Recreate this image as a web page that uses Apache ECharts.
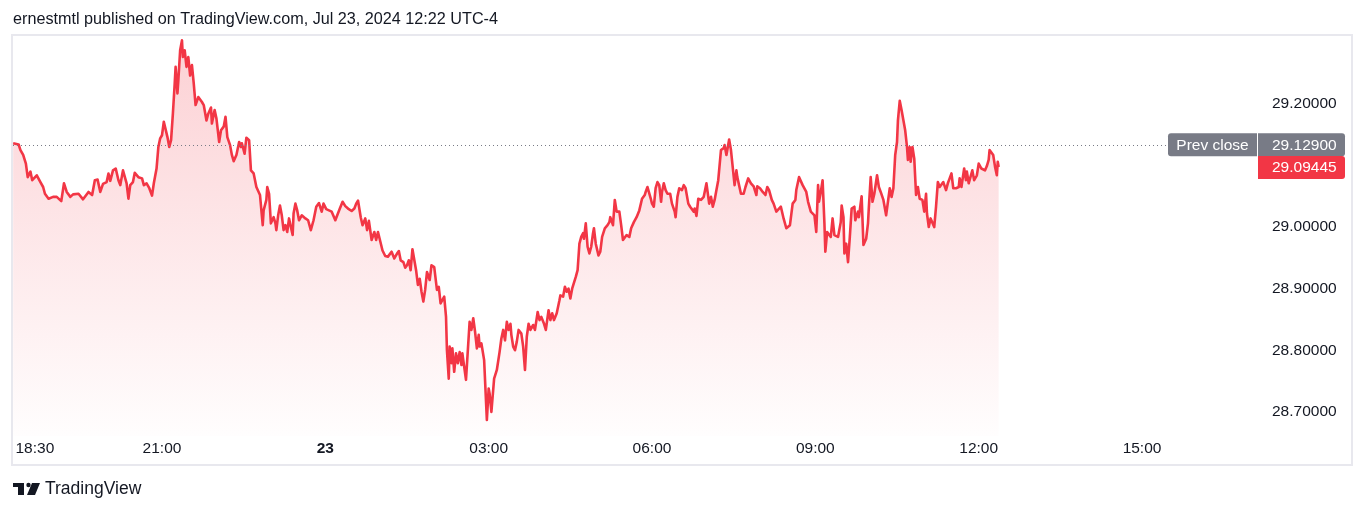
<!DOCTYPE html>
<html>
<head>
<meta charset="utf-8">
<script src="https://cdn.jsdelivr.net/npm/echarts@6/dist/echarts.min.js"></script>
<style>
html,body{margin:0;padding:0;background:#ffffff;}
#c{width:1365px;height:512px;}
</style>
</head>
<body>
<div id="c"></div>
<script>
// minutes after 18:00 on Jul 22, 2024 (UTC-4)
const minutes = [
16,22,24,27,30,32,35,37,42,46,49,51,55,60,64,69,72,75,79,82,
88,93,99,103,106,109,112,115,119,121,123,126,129,132,134,137,141,143,145,148,
150,154,158,160,163,166,169,171,174,176,178,180,182,184,186,188,190,192,194,195,
197,198,200,202,203,205,207,209,211,213,215,217,220,224,226,229,231,234,235,238,
240,243,245,248,250,252,255,257,259,262,265,267,268,271,273,276,278,281,284,288,
291,292,295,296,298,300,303,305,306,308,310,312,314,316,318,320,322,324,325,327,
329,331,334,338,341,344,347,350,353,356,358,361,363,367,371,373,376,379,382,385,
389,392,394,396,399,401,404,406,408,411,414,416,418,420,423,426,429,433,436,439,
441,443,446,448,450,452,454,456,458,460,462,464,466,468,470,472,475,477,480,483,
485,487,491,493,494,496,497,499,500,502,504,506,508,510,511,515,519,521,523,525,
527,529,530,532,535,538,540,541,543,546,549,552,554,556,558,560,562,564,565,567,
569,571,573,576,578,580,582,584,586,589,591,594,596,598,601,603,606,608,610,612,
615,618,619,622,624,626,628,630,632,634,636,638,640,642,644,645,647,649,651,653,
655,656,658,661,663,665,668,671,673,674,677,679,681,684,686,688,690,692,695,697,
699,700,703,706,708,709,712,713,715,717,719,720,722,724,726,728,730,731,733,735,
737,740,742,745,746,748,750,753,755,757,760,762,764,766,767,769,771,774,777,780,
781,783,785,787,789,791,793,795,796,799,800,802,805,807,809,811,813,814,816,818,
821,823,826,829,832,835,836,839,842,845,847,849,852,854,857,859,862,865,868,870,
872,875,878,879,882,884,886,888,890,892,895,897,899,901,903,904,906,908,910,911,
913,915,917,919,921,923,925,926,928,929,931,932,934,936,938,940,943,944,947,948,
951,953,956,958,959,961,963,965,968,970,972,975,978,980,982,984,986,988,990,991,
993,995,997,999,1001,1002,1004,1005,1007,1009,1011,1013,1015,1018,1020,1022,1023,1025,1027,1029,
1031,1033,1035,1037,1039,1041,1044,1046,1048,1050,1052,1055,1058,1059,1061,1064,1066,1067,1069,1071,
1073,1075,1078,1080,1083,1085,1087,1089,1091,1092,1094,1096,1098,1100,1101,1102
];
const prices = [
29.133,29.131,29.122,29.114,29.100,29.078,29.087,29.073,29.081,29.070,29.062,29.051,29.043,29.046,29.046,29.039,29.068,29.054,29.046,29.050,
29.051,29.042,29.054,29.049,29.073,29.074,29.054,29.067,29.070,29.084,29.072,29.089,29.092,29.073,29.065,29.089,29.068,29.043,29.065,29.070,
29.085,29.078,29.076,29.065,29.068,29.060,29.048,29.068,29.092,29.127,29.141,29.146,29.168,29.170,29.143,29.127,29.138,29.181,29.230,29.257,
29.214,29.235,29.284,29.300,29.273,29.284,29.257,29.273,29.243,29.260,29.230,29.195,29.208,29.200,29.195,29.170,29.181,29.191,29.165,29.187,
29.173,29.135,29.154,29.160,29.176,29.143,29.130,29.114,29.104,29.114,29.135,29.127,29.133,29.116,29.142,29.138,29.089,29.084,29.062,29.049,
29.000,29.024,29.041,29.062,29.051,29.003,29.013,29.003,28.992,29.016,29.032,29.016,28.992,29.000,28.989,29.011,28.997,28.984,29.019,29.035,
29.024,29.008,29.016,29.011,29.008,28.992,29.008,29.030,29.036,29.022,29.035,29.026,29.027,29.022,29.008,29.011,29.027,29.038,29.031,29.027,
29.023,29.027,29.035,29.040,29.013,29.000,29.011,28.992,29.007,28.976,28.989,28.976,28.989,28.987,28.959,28.950,28.949,28.957,28.946,28.954,
28.958,28.943,28.940,28.931,28.935,28.943,28.927,28.961,28.959,28.927,28.903,28.913,28.892,28.876,28.895,28.924,28.911,28.935,28.932,28.895,
28.900,28.873,28.884,28.851,28.797,28.751,28.803,28.776,28.800,28.762,28.792,28.776,28.794,28.773,28.792,28.749,28.843,28.830,28.849,28.827,
28.800,28.822,28.803,28.808,28.781,28.684,28.735,28.727,28.697,28.751,28.765,28.794,28.816,28.830,28.813,28.843,28.830,28.840,28.822,28.803,
28.797,28.811,28.830,28.824,28.803,28.765,28.819,28.840,28.830,28.838,28.830,28.859,28.846,28.851,28.840,28.830,28.862,28.846,28.857,28.846,
28.857,28.878,28.886,28.884,28.900,28.892,28.897,28.881,28.897,28.900,28.916,28.927,28.970,28.981,28.987,28.978,29.003,28.965,28.954,28.965,
28.987,28.995,28.970,28.951,28.957,28.981,28.995,29.000,29.005,29.013,29.000,29.041,29.022,29.022,29.000,28.976,28.976,28.984,28.981,28.995,
28.992,29.005,29.013,29.024,29.027,29.043,29.049,29.054,29.062,29.065,29.041,29.035,29.030,29.060,29.070,29.065,29.038,29.054,29.068,29.057,
29.051,29.051,29.035,29.022,29.013,29.046,29.060,29.057,29.065,29.060,29.035,29.030,29.030,29.022,29.027,29.015,29.043,29.041,29.046,29.068,
29.068,29.035,29.046,29.030,29.041,29.057,29.073,29.076,29.122,29.125,29.130,29.114,29.139,29.122,29.119,29.065,29.089,29.078,29.078,29.051,
29.051,29.062,29.076,29.068,29.063,29.049,29.063,29.060,29.054,29.049,29.062,29.057,29.041,29.035,29.022,29.022,29.030,29.011,28.995,28.992,
29.000,29.035,29.041,29.057,29.078,29.078,29.065,29.068,29.054,29.038,29.022,29.019,29.016,28.989,29.065,29.038,29.054,29.073,29.003,28.957,
28.989,28.989,28.981,29.011,28.984,28.987,28.981,28.989,29.005,29.032,29.013,28.954,28.970,28.940,28.981,29.027,29.030,29.008,29.022,29.013,
29.047,28.968,28.978,29.003,29.030,29.078,29.038,29.051,29.081,29.062,29.054,29.041,29.016,29.019,29.060,29.046,29.060,29.114,29.135,29.170,
29.202,29.187,29.187,29.154,29.127,29.106,29.127,29.103,29.127,29.108,29.049,29.062,29.043,29.041,29.022,29.051,29.019,28.997,29.011,29.013,
28.997,29.030,29.070,29.062,29.060,29.070,29.057,29.068,29.076,29.084,29.060,29.060,29.062,29.076,29.062,29.092,29.073,29.087,29.068,29.070,
29.089,29.073,29.081,29.100,29.092,29.092,29.089,29.096,29.106,29.122,29.125,29.114,29.095,29.081,29.103,29.09445
];
const prevClose = 29.129;
const lastPrice = 29.09445;
const timeTicks = [30, 180, 360, 540, 720, 900, 1080, 1260];   // 18:30, 21:00, 23 (00:00), 03:00 ... 15:00
const priceTicks = [28.7, 28.8, 28.9, 29.0, 29.2];
const titleText = 'ernestmtl published on TradingView.com, Jul 23, 2024 12:22 UTC-4';
const brandText = 'TradingView';
const prevLabel = 'Prev close';

const FONT = "'Liberation Sans', Arial, sans-serif";
const TXT = '#131722';
const RED = '#F23645';
const GREY = '#787B86';

function fmtTime(m) {
  const total = (18 * 60 + m) % 1440;
  const h = Math.floor(total / 60), mm = total % 60;
  return String(h).padStart(2, '0') + ':' + String(mm).padStart(2, '0');
}

const chart = echarts.init(document.getElementById('c'), null, {renderer: 'canvas'});
chart.setOption({
  animation: false,
  backgroundColor: '#ffffff',
  grid: {left: 13, right: 111, top: 37, bottom: 76, outerBoundsMode: 'none'},
  xAxis: {
    type: 'value', min: 15.8, max: 1383.4,
    axisLine: {show: false}, axisTick: {show: false}, splitLine: {show: false},
    axisLabel: {
      customValues: timeTicks, margin: 5, color: TXT, fontSize: 15.5, fontFamily: FONT,
      hideOverlap: false,
      formatter: function (v) {
        if (v === 360) return '{b|23}';
        if (v === 30) return '{f|' + fmtTime(v) + '}';
        return fmtTime(v);
      },
      rich: {
        b: {fontWeight: 'bold', fontSize: 15.5, fontFamily: FONT, color: TXT},
        f: {padding: [0, 0, 0, 18], fontSize: 15.5, fontFamily: FONT, color: TXT}
      }
    }
  },
  yAxis: {
    type: 'value', position: 'right', min: 28.6578, max: 29.3055,
    axisLine: {show: false}, axisTick: {show: false}, splitLine: {show: false},
    axisLabel: {
      customValues: priceTicks, margin: 18, color: TXT, fontSize: 15.5, fontFamily: FONT,
      formatter: function (v) { return '{p|' + v.toFixed(5) + '}'; },
      rich: {p: {padding: [4, 0, 0, 0], fontSize: 15.5, fontFamily: FONT, color: TXT}}
    }
  },
  series: [{
    type: 'line',
    data: minutes.map(function (m, i) { return [m, prices[i]]; }),
    showSymbol: false, symbol: 'none',
    lineStyle: {color: RED, width: 2.6, join: 'round'},
    itemStyle: {color: RED},
    areaStyle: {
      color: new echarts.graphic.LinearGradient(0, 0, 0, 1, [
        {offset: 0, color: 'rgba(242,54,69,0.33)'},
        {offset: 1, color: 'rgba(242,54,69,0.01)'}
      ])
    },
    markLine: {
      silent: true, symbol: 'none', label: {show: false},
      lineStyle: {type: [1, 3], color: GREY, width: 1},
      emphasis: {disabled: true},
      data: [{yAxis: prevClose}]
    }
  }]
});

const yP = chart.convertToPixel({yAxisIndex: 0}, prevClose);
const yL = chart.convertToPixel({yAxisIndex: 0}, lastPrice);

chart.setOption({
  graphic: [
    {type: 'rect', z: 100, silent: true, shape: {x: 12, y: 35, width: 1340, height: 430},
     style: {fill: 'none', stroke: '#E8E8EE', lineWidth: 2}},
    {type: 'text', z: 100, x: 13, y: 20,
     style: {text: titleText, fill: TXT, fontSize: 16.2, fontFamily: FONT, align: 'left', verticalAlign: 'middle'}},
    // Prev close badge
    {type: 'rect', z: 100, shape: {x: 1168, y: yP - 12.5, width: 89, height: 23, r: [3, 0, 0, 3]}, style: {fill: GREY}},
    {type: 'rect', z: 100, shape: {x: 1258, y: yP - 12.5, width: 87, height: 23, r: [0, 3, 3, 0]}, style: {fill: GREY}},
    {type: 'text', z: 101, x: 1212.5, y: yP - 0.5,
     style: {text: prevLabel, fill: '#ffffff', fontSize: 15.5, fontFamily: FONT, align: 'center', verticalAlign: 'middle'}},
    {type: 'text', z: 101, x: 1272, y: yP - 0.5,
     style: {text: prevClose.toFixed(5), fill: '#ffffff', fontSize: 15.5, fontFamily: FONT, align: 'left', verticalAlign: 'middle'}},
    // Last price badge
    {type: 'rect', z: 102, shape: {x: 1258, y: yL - 11, width: 87, height: 23, r: [0, 3, 3, 0]}, style: {fill: RED}},
    {type: 'text', z: 103, x: 1272, y: yL + 1,
     style: {text: lastPrice.toFixed(5), fill: '#ffffff', fontSize: 15.5, fontFamily: FONT, align: 'left', verticalAlign: 'middle'}},
    // TradingView logo
    {type: 'rect', z: 100, shape: {x: 13, y: 483, width: 11, height: 4}, style: {fill: TXT}},
    {type: 'rect', z: 100, shape: {x: 18, y: 483, width: 6, height: 12}, style: {fill: TXT}},
    {type: 'circle', z: 100, shape: {cx: 28.5, cy: 485, r: 2.2}, style: {fill: TXT}},
    {type: 'polygon', z: 100, shape: {points: [[32, 483], [40, 483], [35, 495], [27, 495]]}, style: {fill: TXT}},
    {type: 'text', z: 100, x: 45, y: 489,
     style: {text: brandText, fill: TXT, fontSize: 17.5, fontFamily: FONT, align: 'left', verticalAlign: 'middle'}}
  ]
});
</script>
</body>
</html>
